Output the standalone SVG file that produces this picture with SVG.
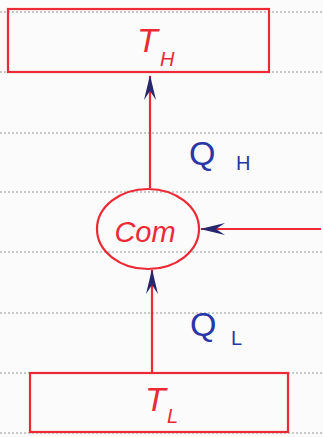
<svg xmlns="http://www.w3.org/2000/svg" width="323" height="437" viewBox="0 0 323 437">
<defs>
<style>
.rule{stroke:#b8b8b8;stroke-width:1.5;stroke-dasharray:2 2;}
.red{fill:none;stroke:#ec2a35;stroke-width:2.2;}
.wire{fill:none;stroke:#ec2a35;stroke-width:2.2;}
.lbl{font-family:"Liberation Sans",Arial,sans-serif;font-style:italic;fill:#ec2a35;}
.q{font-family:"Liberation Sans",Arial,sans-serif;fill:#2a35a8;}
</style>
<marker id="ah" viewBox="0 0 26 14" refX="25" refY="7" markerWidth="26" markerHeight="14" markerUnits="userSpaceOnUse" orient="auto">
<path d="M26,7 L1,1 L10,7 L1,13 Z" fill="#26286e"/>
</marker>
</defs>
<rect width="323" height="437" fill="#fbfbfb"/>
<g id="ruling">
<line class="rule" x1="0" y1="12" x2="323" y2="12"/>
<line class="rule" x1="0" y1="72" x2="323" y2="72"/>
<line class="rule" x1="0" y1="133" x2="323" y2="133"/>
<line class="rule" x1="0" y1="192" x2="323" y2="192"/>
<line class="rule" x1="0" y1="252" x2="323" y2="252"/>
<line class="rule" x1="0" y1="313" x2="323" y2="313"/>
<line class="rule" x1="0" y1="373" x2="323" y2="373"/>
<line class="rule" x1="0" y1="433" x2="323" y2="433"/>
</g>
<g id="connectors">
<path class="wire" d="M150,188 L150,76" marker-end="url(#ah)"/>
<path class="wire" d="M152,372 L152,270" marker-end="url(#ah)"/>
<path class="wire" d="M321,229 L201,229" marker-end="url(#ah)"/>
<text class="q" x="189" y="165" font-size="34">Q</text>
<text class="q" x="236" y="170" font-size="20">H</text>
<text class="q" x="190" y="336" font-size="34">Q</text>
<text class="q" x="231" y="345" font-size="20">L</text>
</g>
<g id="TH">
<rect class="red" x="8" y="9" width="261" height="63"/>
<text class="lbl" x="137" y="52" font-size="34">T</text>
<text class="lbl" x="160" y="66" font-size="20">H</text>
</g>
<g id="Com">
<ellipse class="red" cx="148" cy="229" rx="51" ry="40"/>
<text class="lbl" x="145" y="242" font-size="29" text-anchor="middle">Com</text>
</g>
<g id="TL">
<rect class="red" x="30" y="373" width="258" height="59"/>
<text class="lbl" x="145" y="411" font-size="34">T</text>
<text class="lbl" x="167" y="423" font-size="20">L</text>
</g>
</svg>
